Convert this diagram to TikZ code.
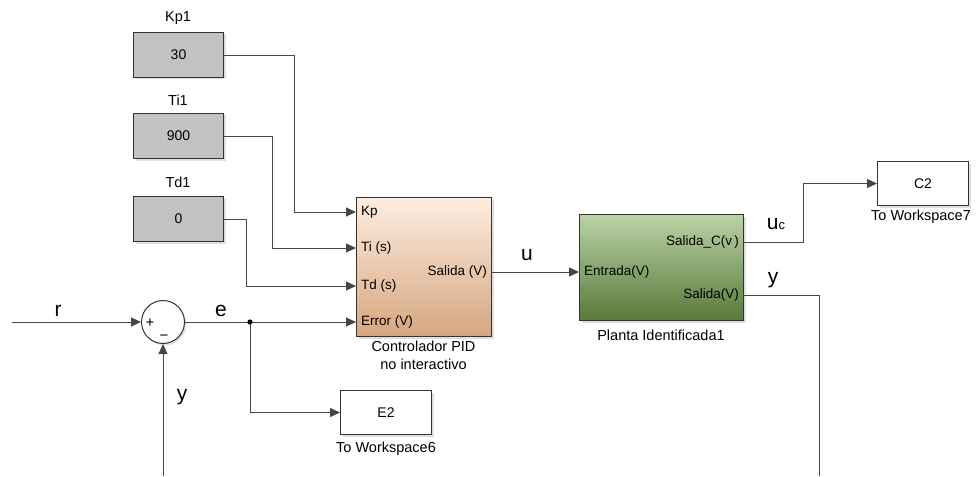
\documentclass[tikz,border=0pt]{standalone}
\usepackage{fontspec}
\setmainfont{Liberation Sans}
\usetikzlibrary{arrows.meta,shadows}
\definecolor{cgray}{RGB}{194,194,194}
\definecolor{pidtop}{RGB}{253,237,224}
\definecolor{pidbot}{RGB}{214,166,128}
\definecolor{pltop}{RGB}{186,210,166}
\definecolor{plbot}{RGB}{88,122,58}
\definecolor{wirec}{RGB}{70,70,70}
\begin{document}
\begin{tikzpicture}[x=1pt,y=-1pt,
  every node/.style={font=\fontsize{14}{16}\selectfont},
  wire/.style={draw=wirec, line width=0.9pt},
  arr/.style={-{Triangle[length=10pt,width=9pt]}},
  blk/.style={draw=black!80, line width=1pt, inner sep=0pt, anchor=north west,
    drop shadow={opacity=0.25, shadow xshift=2pt, shadow yshift=-2pt}},
  cst/.style={blk, fill=cgray, minimum width=90, minimum height=45},
  wsb/.style={blk, fill=white, minimum width=91, minimum height=44},
  sig/.style={font=\fontsize{21}{22}\selectfont, inner sep=0pt},
  port/.style={inner sep=0pt, font=\fontsize{13.5}{15}\selectfont},
  captext/.style={inner sep=0pt, font=\fontsize{14.5}{16}\selectfont}
]
\useasboundingbox (0,0) rectangle (976,476);

% constant blocks
\node[cst] (kp) at (133,32) {30};
\node[cst] (ti) at (133,113) {900};
\node[cst] (td) at (133,196) {0};
\node[captext] (kpl) at (178,18) {Kp1};
\node[captext] (til) at (178,100) {Ti1};
\node[captext] (tdl) at (178,182) {Td1};

% PID block
\node[blk, minimum width=135, minimum height=139, top color=pidtop, bottom color=pidbot] (pid) at (356,197) {};
\node[port, anchor=west] (lkp) at (361,212) {Kp};
\node[port, anchor=west] (lti) at (361,248) {Ti (s)};
\node[port, anchor=west] (ltd) at (361,286) {Td (s)};
\node[port, anchor=west] (ler) at (361,322) {Error (V)};
\node[port, anchor=east] (lsa) at (487,272) {Salida (V)};
\node[captext, align=center, anchor=north] (pidl) at (423.5,341) {Controlador PID\\[2pt]no interactivo};
\coordinate (pKp) at (356,212);
\coordinate (pTi) at (356,248);
\coordinate (pTd) at (356,286);
\coordinate (pEr) at (356,322);
\coordinate (pOut) at (491,272);

% Plant block
\node[blk, minimum width=164, minimum height=106, top color=pltop, bottom color=plbot] (pl) at (579,214) {};
\node[port, anchor=west] (lent) at (584,272) {Entrada(V)};
\node[port, anchor=east] (lsc) at (739,242) {Salida\_C(v\,)};
\node[port, anchor=east] (lsv) at (739,295) {Salida(V)};
\node[captext] (pll) at (661,335) {Planta Identificada1};
\coordinate (pEnt) at (579,272);
\coordinate (pSC) at (743,242);
\coordinate (pSV) at (743,295);

% To workspace blocks
\node[wsb] (c2) at (877,161) {C2};
\node[captext] (c2l) at (921,217) {To Workspace7};
\node[wsb] (e2) at (340,390) {E2};
\node[captext] (e2l) at (386,449) {To Workspace6};

% sum
\node[circle, draw=black!80, line width=1pt, fill=white, minimum size=43, inner sep=0pt,
  drop shadow={opacity=0.25, shadow xshift=2pt, shadow yshift=-2pt}] (sum) at (163,322) {};
\node[inner sep=0pt, font=\fontsize{15}{15}\selectfont] (plus) at (150,323) {+};
\node[inner sep=0pt, font=\fontsize{15}{15}\selectfont] (minus) at (164,338) {−};

% coordinates
\coordinate (rin) at (12,322);
\coordinate (jn) at (250,322);
\coordinate (fbL) at (163,476);
\coordinate (fbR) at (819,476);

% wires
\draw[wire,arr] (kp.east) -- ++(70,0) |- (pKp);
\draw[wire,arr] (ti.east) -- ++(48,0) |- (pTi);
\draw[wire,arr] (td.east) -- ++(22,0) |- (pTd);
\draw[wire,arr] (rin) -- (sum.west);
\draw[wire] (sum.east) -- (jn);
\draw[wire,arr] (jn) -- (pEr);
\draw[wire,arr] (jn) |- (e2.west);
\fill[black] (jn) circle (2.6pt);
\draw[wire,arr] (pOut) -- (pEnt);
\draw[wire,arr] (pSC) -- (803,242) |- (c2.west);
\draw[wire] (pSV) -| (fbR);
\draw[wire,arr] (fbL) -- (sum.south);

% signal labels
\node[sig] (lr) at (58,311) {r};
\node[sig] (le) at (221,311) {e};
\node[sig] (lu) at (527,255) {u};
\node[sig, anchor=base] (luc) at (776,229) {u{\fontsize{13}{14}\selectfont c}};
\node[sig] (ly1) at (773,280) {y};
\node[sig] (ly2) at (182,397) {y};
\end{tikzpicture}
\end{document}
